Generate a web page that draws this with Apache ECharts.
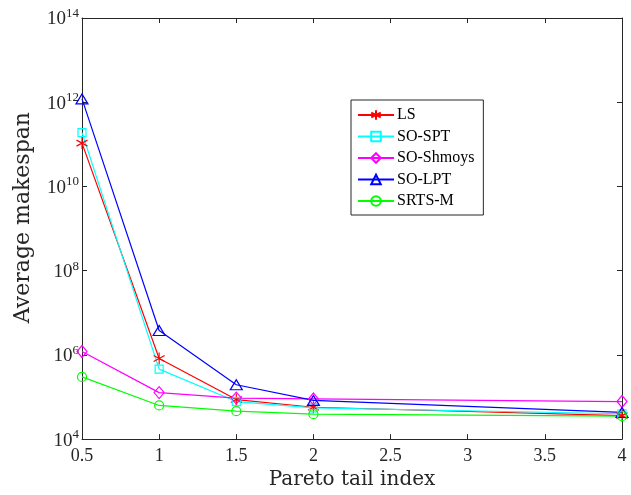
<!DOCTYPE html>
<html>
<head>
<meta charset="utf-8">
<script src="https://cdn.jsdelivr.net/npm/echarts@6/dist/echarts.min.js"></script>
<style>
  html, body { margin: 0; padding: 0; background: #fff; }
  #chart_main { width: 631px; height: 495px; }
</style>
</head>
<body>
<div id="chart_main"></div>
<script>
var myChart = echarts.init(document.getElementById('chart_main'));
var fontsty = 'Liberation Serif';
var fontname = 'DejaVu Serif';
var axcol = '#262626';

// pareto tail index
var x_index = [0.5, 1, 1.5, 2, 4];
var x_ticks = [0.5, 1, 1.5, 2, 2.5, 3, 3.5, 4];
var y_ticks = [4, 6, 8, 10, 12, 14];

var names = ['LS', 'SO-SPT', 'SO-Shmoys', 'SO-LPT', 'SRTS-M'];
var data_ls     = [1.07e11, 8.2e5, 8.7e4, 5.7e4, 3.6e4];
var data_spt    = [1.9e11, 4.6e5, 7.8e4, 5.5e4, 4.0e4];
var data_shmoys = [1.2e6, 1.27e5, 9.4e4, 9.0e4, 7.8e4];
var data_lpt    = [1.2e12, 3.8e6, 1.95e5, 8.3e4, 4.3e4];
var data_srts   = [3.0e5, 6.3e4, 4.6e4, 3.9e4, 3.5e4];

var colors = ['#ff0000', '#00ffff', '#ff00ff', '#0000ff', '#00ff00'];
var symbols = [
  'path://M0,-10L0,10M-8.66,-5L8.66,5M-8.66,5L8.66,-5',
  'rect',
  'diamond',
  'triangle',
  'circle'
];
var sizes = [[11, 12], 8, [10, 12], [12, 10], 9];

function pair(vals) {
  var out = [];
  for (var i = 0; i < x_index.length; i++) {
    out.push([x_index[i], vals[i]]);
  }
  return out;
}

function makeSeries(name, vals, idx) {
  return {
    name: name,
    type: 'line',
    data: pair(vals),
    symbol: symbols[idx],
    symbolSize: sizes[idx],
    showAllSymbol: true,
    lineStyle: { color: colors[idx], width: 1.2 },
    itemStyle: { color: 'transparent', borderColor: colors[idx], borderWidth: 1.2 },
    emphasis: { disabled: true },
    animation: false
  };
}

var option = {
  backgroundColor: '#fff',
  animation: false,
  grid: { left: 82, right: 9, top: 18, bottom: 52, containLabel: false },
  legend: {
    show: true,
    orient: 'vertical',
    left: 351,
    top: 100,
    padding: [7, 9, 6, 6],
    itemWidth: 36,
    itemHeight: 12,
    itemGap: 5.5,
    borderColor: '#262626',
    borderWidth: 1,
    backgroundColor: '#fff',
    data: names,
    textStyle: { fontSize: 16, fontFamily: fontsty, color: '#000', padding: [0, 0, 0, -2] }
  },
  xAxis: [
    {
      type: 'value',
      min: 0.5,
      max: 4,
      interval: 0.5,
      name: 'Pareto tail index',
      nameLocation: 'middle',
      nameGap: 27,
      nameTextStyle: { fontSize: 20, fontFamily: fontname, color: axcol },
      axisLine: { lineStyle: { color: axcol, width: 1 } },
      axisTick: { inside: true, length: 5, lineStyle: { color: axcol } },
      axisLabel: { fontSize: 18, fontFamily: fontsty, color: axcol, margin: 8 },
      splitLine: { show: false }
    },
    {
      type: 'value',
      position: 'top',
      min: 0.5,
      max: 4,
      interval: 0.5,
      axisLine: { show: true, lineStyle: { color: axcol, width: 1 } },
      axisTick: { inside: true, length: 5, lineStyle: { color: axcol } },
      axisLabel: { show: false },
      splitLine: { show: false }
    }
  ],
  yAxis: [
    {
      type: 'log',
      logBase: 100,
      min: 1e4,
      max: 1e14,
      name: 'Average makespan',
      nameLocation: 'middle',
      nameGap: 48,
      nameTextStyle: { fontSize: 22, fontFamily: fontname, color: axcol, padding: [0, 0, 0, 22] },
      axisLine: { show: true, lineStyle: { color: axcol, width: 1 } },
      axisTick: { inside: true, length: 5, lineStyle: { color: axcol } },
      axisLabel: {
        margin: 3,
        formatter: function (v) {
          var e = Math.round(Math.log(v) / Math.LN10);
          return '{b|10}{s|' + e + '}';
        },
        rich: {
          b: { fontSize: 19, fontFamily: fontsty, color: axcol, lineHeight: 22, verticalAlign: 'bottom', padding: [8, 0, 0, 0] },
          s: { fontSize: 13, fontFamily: fontsty, color: axcol, verticalAlign: 'top' }
        }
      },
      splitLine: { show: false }
    },
    {
      type: 'log',
      logBase: 100,
      min: 1e4,
      max: 1e14,
      position: 'right',
      axisLine: { show: true, lineStyle: { color: axcol, width: 1 } },
      axisTick: { inside: true, length: 5, lineStyle: { color: axcol } },
      axisLabel: { show: false },
      splitLine: { show: false }
    }
  ],
  series: [
    makeSeries(names[0], data_ls, 0),
    makeSeries(names[1], data_spt, 1),
    makeSeries(names[2], data_shmoys, 2),
    makeSeries(names[3], data_lpt, 3),
    makeSeries(names[4], data_srts, 4)
  ]
};
myChart.setOption(option);
</script>
</body>
</html>
